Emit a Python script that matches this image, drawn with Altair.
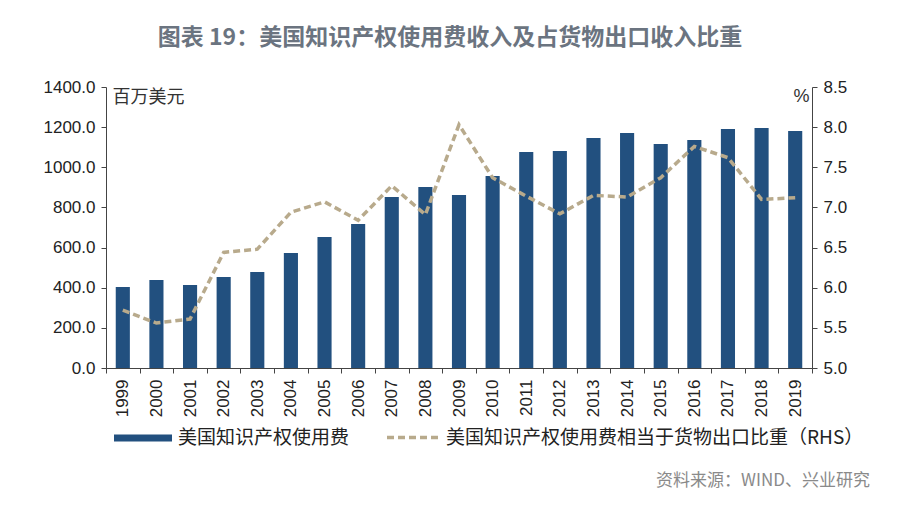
import altair as alt
import pandas as pd

years = [str(y) for y in range(1999, 2020)]
fees = [404, 438, 413, 453, 478, 573, 653, 717, 852, 902, 862, 957,
        1076, 1081, 1146, 1171, 1116, 1136, 1191, 1196, 1181]
ratio = [5.72, 5.56, 5.61, 6.44, 6.48, 6.94, 7.07, 6.84, 7.27, 6.91, 8.03, 7.37,
         7.14, 6.92, 7.15, 7.13, 7.37, 7.76, 7.62, 7.10, 7.12]

bar_name = "美国知识产权使用费"
line_name = "美国知识产权使用费相当于货物出口比重（RHS）"
title_text = "图表 19：美国知识产权使用费收入及占货物出口收入比重"
source_text = "资料来源：WIND、兴业研究"
left_ticks = [0, 200, 400, 600, 800, 1000, 1200, 1400]
right_ticks = [5.0, 5.5, 6.0, 6.5, 7.0, 7.5, 8.0, 8.5]

df = pd.DataFrame({"year": years, "fee": fees, "ratio": ratio,
                   "bar": bar_name, "line": line_name})

FONT = "Noto Sans CJK SC"
NUMFONT = "Liberation Sans"
AXIS_COLOR = "#444444"
BAR_COLOR = "#22507f"
LINE_COLOR = "#b8aa8c"

x = alt.X("year:O", title=None,
          scale=alt.Scale(paddingInner=0, paddingOuter=0),
          axis=alt.Axis(labelAngle=-90, tickBand="extent", labelFont=NUMFONT,
                        labelFontSize=17, labelColor="#222222", labelPadding=6,
                        domainColor=AXIS_COLOR, tickColor=AXIS_COLOR, tickSize=5))

bars = alt.Chart(df).mark_bar(width=alt.RelativeBandSize(0.42), color=BAR_COLOR).encode(
    x=x,
    y=alt.Y("fee:Q", scale=alt.Scale(domain=[0, 1400], nice=False),
            axis=alt.Axis(values=left_ticks, format=".1f", orient="left",
                          title="百万美元", titleAngle=0, titleAlign="left",
                          titleBaseline="middle", titleX=6, titleY=10,
                          titleFont=FONT, titleFontSize=18, titleFontWeight="normal",
                          titleColor="#333333",
                          labelFont=NUMFONT, labelFontSize=17, labelColor="#222222",
                          labelPadding=6, grid=False, domainColor=AXIS_COLOR,
                          tickColor=AXIS_COLOR, tickSize=5)),
    color=alt.Color("bar:N", scale=alt.Scale(domain=[bar_name], range=[BAR_COLOR]),
                    legend=alt.Legend(title=None, orient="none", legendX=8, legendY=322,
                                      padding=0,
                                      symbolType="M-1,-0.12L1,-0.12L1,0.12L-1,0.12Z",
                                      symbolSize=3364, symbolStrokeWidth=0,
                                      symbolFillColor=BAR_COLOR,
                                      labelFont=FONT, labelFontSize=19,
                                      labelColor="#222222", labelOffset=6,
                                      labelLimit=500)),
)

line = alt.Chart(df).mark_line(strokeDash=[7, 4], strokeWidth=3.5, color=LINE_COLOR).encode(
    x=x,
    y=alt.Y("ratio:Q", scale=alt.Scale(domain=[5, 8.5], nice=False, zero=False),
            axis=alt.Axis(values=right_ticks, format=".1f", orient="right",
                          title="%", titleAngle=0, titleAlign="center",
                          titleBaseline="middle", titleX=-11, titleY=9,
                          titleFont=NUMFONT, titleFontSize=18, titleFontWeight="normal",
                          titleColor="#333333",
                          labelFont=NUMFONT, labelFontSize=17, labelColor="#222222",
                          labelPadding=6, grid=False, domainColor=AXIS_COLOR,
                          tickColor=AXIS_COLOR, tickSize=5)),
    color=alt.Color("line:N", scale=alt.Scale(domain=[line_name], range=[LINE_COLOR]),
                    legend=alt.Legend(title=None, orient="none", legendX=279, legendY=322,
                                      padding=0, symbolType="stroke", symbolSize=2809,
                                      symbolDash=[7, 4], symbolStrokeWidth=3.5,
                                      symbolStrokeColor=LINE_COLOR,
                                      labelFont=FONT, labelFontSize=19,
                                      labelColor="#222222", labelOffset=4,
                                      labelLimit=600)),
)

src = alt.Chart(pd.DataFrame({"t": [source_text]})).mark_text(
    align="right", baseline="middle", font=FONT, fontSize=17, color="#8a8a8a"
).encode(text="t:N", x=alt.value(764), y=alt.value(394))

chart = alt.layer(bars, line, src).resolve_scale(
    y="independent", color="independent"
).properties(
    width=706, height=281,
    autosize=alt.AutoSizeParams(type="none"),
    padding={"left": 98, "top": 79, "right": 80, "bottom": 130},
    title=alt.TitleParams(title_text, font=FONT, fontSize=23, fontWeight="bold",
                          color="#6b7480", anchor="middle", frame="group",
                          dx=-9, offset=5, baseline="bottom"),
).configure_view(stroke=None)

chart.save("out.html", embed_options={"renderer": "svg", "actions": False})
